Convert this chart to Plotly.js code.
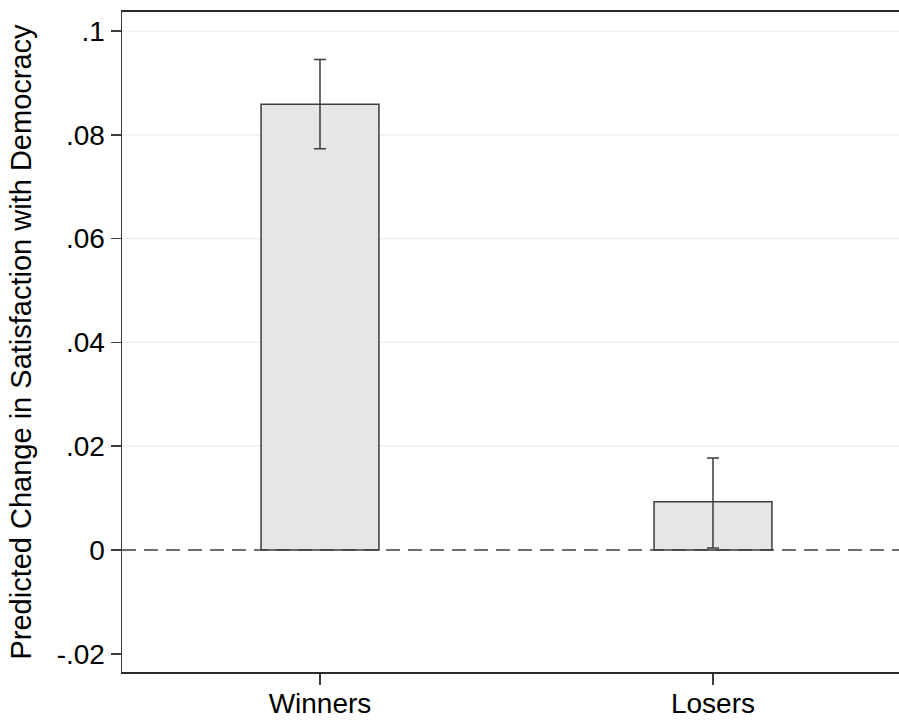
<!DOCTYPE html>
<html>
<head>
<meta charset="utf-8">
<script src="https://cdn.plot.ly/plotly-3.0.1.min.js"></script>
<style>html,body{margin:0;padding:0;background:#fff;}#chart{width:899px;height:720px;}</style>
</head>
<body>
<div id="chart"></div>
<script>
var categories = ["Winners", "Losers"];
var estimates = [0.0859, 0.0093];
var ciLower = [0.0773, 0.0004];
var ciUpper = [0.0945, 0.0177];
var yTickVals = [-0.02, 0, 0.02, 0.04, 0.06, 0.08, 0.1];
var yTickText = ["-.02", "0", ".02", ".04", ".06", ".08", ".1"];
var gridVals = [0.02, 0.04, 0.06, 0.08, 0.1];

var xPos = categories.map(function (c, i) { return i; });

var trace = {
  type: "bar",
  x: xPos,
  y: estimates,
  width: 0.3,
  marker: { color: "#e6e6e6", line: { color: "#3c3c3c", width: 1.5 } },
  error_y: {
    type: "data",
    symmetric: false,
    array: ciUpper.map(function (u, i) { return u - estimates[i]; }),
    arrayminus: estimates.map(function (e, i) { return e - ciLower[i]; }),
    color: "#3c3c3c",
    thickness: 1.5,
    width: 6
  },
  hoverinfo: "none",
  showlegend: false
};

var shapes = gridVals.map(function (v) {
  return { type: "line", xref: "paper", x0: 0, x1: 1, yref: "y", y0: v, y1: v,
           line: { color: "#ebebeb", width: 1.2 }, layer: "below" };
});
shapes.push({ type: "line", xref: "paper", x0: 0, x1: 1, yref: "y", y0: 0, y1: 0,
              line: { color: "#404040", width: 1.5, dash: "14px,8px" }, layer: "above" });

var layout = {
  width: 899,
  height: 720,
  margin: { l: 122, r: 0, t: 12, b: 48 },
  paper_bgcolor: "#ffffff",
  plot_bgcolor: "#ffffff",
  font: { family: "Liberation Sans, Arial, sans-serif", size: 28, color: "#000000" },
  xaxis: {
    range: [-0.5038, 1.4733],
    tickvals: xPos,
    ticktext: categories,
    ticks: "outside",
    ticklen: 11,
    tickwidth: 1.5,
    tickcolor: "#3c3c3c",
    showgrid: false,
    zeroline: false,
    showline: true,
    linecolor: "#2a2a2a",
    linewidth: 2,
    mirror: true,
    ticklabelstandoff: -6,
    tickfont: { size: 28 }
  },
  yaxis: {
    range: [-0.02351, 0.10366],
    tickvals: yTickVals,
    ticktext: yTickText,
    ticks: "outside",
    ticklen: 10,
    tickwidth: 1.5,
    tickcolor: "#3c3c3c",
    showgrid: false,
    zeroline: false,
    showline: true,
    linecolor: "#3c3c3c",
    linewidth: 1.5,
    tickfont: { size: 28 },
    title: { text: "Predicted Change in Satisfaction with Democracy", font: { size: 29 }, standoff: 16 }
  },
  shapes: shapes
};

Plotly.newPlot("chart", [trace], layout, { staticPlot: true, displayModeBar: false });
</script>
</body>
</html>
